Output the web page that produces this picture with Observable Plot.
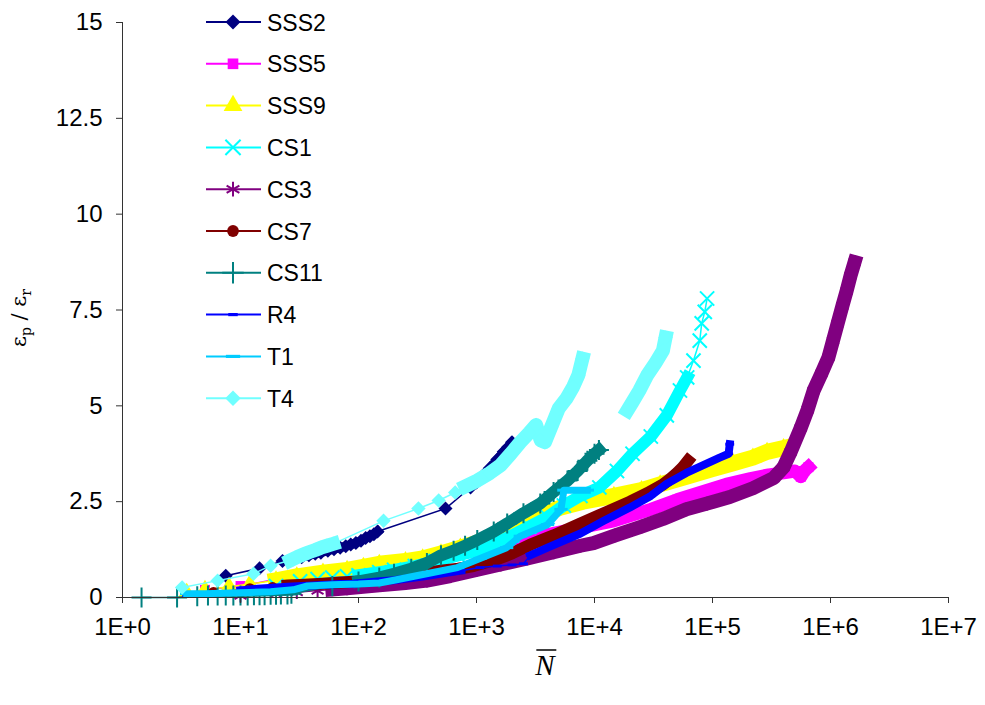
<!DOCTYPE html>
<html><head><meta charset="utf-8">
<script src="https://cdn.jsdelivr.net/npm/d3@7"></script>
<script src="https://cdn.jsdelivr.net/npm/@observablehq/plot@0.6"></script>
<style>
body{margin:0;background:#fff}
#chart{position:relative;width:985px;height:705px}
</style>
</head><body><div id="chart"></div>
<script>
// ---------- data ----------
const seriesNames = ["SSS2","SSS5","SSS9","CS1","CS3","CS7","CS11","R4","T1","T4"];

const SSS2_N = [7.5,14.5,22.7,28,33,38,43,48,55,62,70,78,86,95,105,115,125,135,145,546,891,1000,1150,1300,1500,1700,1850,2000];
const SSS2_y = [0.57,0.76,0.95,1.0,1.05,1.1,1.14,1.17,1.22,1.26,1.3,1.34,1.38,1.42,1.48,1.55,1.6,1.65,1.72,2.32,2.87,3.0,3.2,3.38,3.6,3.8,3.92,4.05];

const SSS5_N = [5,10,22,45,67,85,150,225,400,740,1500,3500,7000,14600,30000,50000,80000,130000,210000,300000,400000,500000,560000,600000,650000];
const SSS5_y = [0.2,0.3,0.5,0.62,0.7,0.75,0.85,0.92,1.05,1.2,1.4,1.6,1.8,2.0,2.3,2.55,2.75,2.95,3.1,3.2,3.25,3.3,3.15,3.3,3.4];

const SSS9_N = [3.5,5,8,12,20,30,50,80,110,150,250,350,500,730,1000,1950,3000,5200,8000,14600,25000,36000,60000,100000,150000,220000,290000,400000];
const SSS9_y = [0.12,0.2,0.28,0.35,0.45,0.55,0.65,0.72,0.8,0.88,0.95,1.02,1.15,1.3,1.42,1.8,2.05,2.35,2.5,2.65,2.8,2.95,3.15,3.35,3.5,3.65,3.8,3.9];

const CS1_N = [20,32,45,60,80,100,150,200,300,450,700,1000,1400,2000,2800,4000,5500,7600,11000,15500,21000,30000,41000,53000,61000,69000,78000,81000,86000,90000];
const CS1_y = [0.3,0.42,0.48,0.52,0.55,0.58,0.66,0.72,0.82,0.95,1.1,1.22,1.4,1.62,1.85,2.1,2.4,2.65,2.87,3.3,3.75,4.2,4.75,5.4,5.74,6.18,6.7,7.15,7.45,7.8];

const CS3_N = [10,20,30,45,60,80,104,150,250,380,600,1000,1600,2700,4500,7600,9800,15000,25000,38000,60000,90000,140000,220000,330000,400000,460000,560000,640000,720000,840000,960000,1050000,1150000,1260000,1370000,1480000,1600000];
const CS3_y = [0.05,0.1,0.14,0.18,0.21,0.24,0.27,0.32,0.38,0.44,0.56,0.72,0.86,1.02,1.18,1.35,1.42,1.62,1.85,2.05,2.3,2.45,2.62,2.85,3.12,3.4,3.8,4.43,4.9,5.4,5.85,6.26,6.7,7.15,7.6,8.0,8.4,8.75];

const CS7_N = [5.9,12,18.7,25,35,50,70,100,150,220,315,500,700,940,1500,2000,2860,4500,7600,12000,20000,28000,38000,44000,50000,56000,62000];
const CS7_y = [0.13,0.23,0.26,0.31,0.33,0.36,0.39,0.42,0.46,0.53,0.6,0.7,0.75,0.82,1.0,1.15,1.38,1.62,1.93,2.2,2.5,2.72,2.95,3.1,3.25,3.4,3.57];

const CS11_N = [1.45,2.9,4.3,5.3,6.4,7.5,8.7,10,11.5,13,14.5,16,18,20,22,25,27,60,100,150,200,280,380,500,640,800,1015,1400,1820,2500,3470,4500,5900,7200,8700,10000,10900];
const CS11_y = [0,0,0.03,0.05,0.05,0.05,0.05,0.05,0.05,0.06,0.06,0.06,0.07,0.07,0.08,0.08,0.1,0.3,0.42,0.52,0.62,0.75,0.9,1.1,1.22,1.35,1.5,1.72,1.93,2.2,2.45,2.75,3.05,3.3,3.57,3.75,3.85];

const R4_N = [3.5,6,10,14,25,45,70,90,145,200,350,740,1070,1500,2000,2500,2860,4000,7600,12000,20000,30000,41000,60000,90000,115000,137000,140000];
const R4_y = [0.05,0.12,0.18,0.23,0.28,0.32,0.35,0.36,0.42,0.45,0.55,0.7,0.78,0.82,0.85,0.88,1.1,1.3,1.67,2.0,2.35,2.65,2.97,3.25,3.5,3.65,3.75,4.0];

const T1_N = [3.5,5,8,12,18,28,37,60,100,150,200,350,690,1070,1800,2350,4000,5200,5500,7000,8700];
const T1_y = [0.1,0.1,0.12,0.13,0.15,0.2,0.3,0.33,0.35,0.38,0.45,0.6,0.78,1.02,1.3,1.6,1.9,2.3,2.8,2.8,2.8];

const T4_N = [3.2,6.4,12.9,18,26.5,30,34,38,43,48,54,61,163,322,478,660,805,1016,1300,1600,1950,2350,2800,3200,3500,3800,4300,4970,5800,6600,7300,7900,null,19000,21000,24000,28000,33000,38000,40000];
const T4_y = [0.26,0.44,0.62,0.83,0.97,1.05,1.12,1.18,1.24,1.3,1.35,1.4,2.0,2.32,2.53,2.74,2.9,3.05,3.25,3.45,3.75,4.05,4.3,4.5,4.1,4.05,4.45,4.93,5.2,5.5,5.8,6.23,null,4.88,5.1,5.4,5.8,6.13,6.44,6.78];

const seriesN = {SSS2:SSS2_N,SSS5:SSS5_N,SSS9:SSS9_N,CS1:CS1_N,CS3:CS3_N,CS7:CS7_N,CS11:CS11_N,R4:R4_N,T1:T1_N,T4:T4_N};
const seriesY = {SSS2:SSS2_y,SSS5:SSS5_y,SSS9:SSS9_y,CS1:CS1_y,CS3:CS3_y,CS7:CS7_y,CS11:CS11_y,R4:R4_y,T1:T1_y,T4:T4_y};

const xTicks = [1,10,100,1e3,1e4,1e5,1e6,1e7];
const xTickLabels = ["1E+0","1E+1","1E+2","1E+3","1E+4","1E+5","1E+6","1E+7"];
const yTicks = [0,2.5,5,7.5,10,12.5,15];
const yTickLabels = ["0","2.5","5","7.5","10","12.5","15"];

// ---------- styles ----------
function dashSymbol(ratio){
  return {draw(ctx, size){
    const w = Math.sqrt(size)*ratio, h = Math.sqrt(size)/3;
    ctx.moveTo(-w/2,-h/2); ctx.lineTo(w/2,-h/2); ctx.lineTo(w/2,h/2); ctx.lineTo(-w/2,h/2); ctx.closePath();
  }};
}
const styles = {
  SSS2:{color:"#000080", symbol:"diamond2", filled:true,  r:6.3, band:9,  dense:[[30,150],[900,2100]]},
  SSS5:{color:"#FF00FF", symbol:"square",   filled:true,  r:5.6, band:13, dense:[[100,1e7]]},
  SSS9:{color:"#FFFF00", symbol:"triangle", filled:true,  r:6.5, band:16, dense:[[20,1e7]]},
  CS1: {color:"#00FFFF", symbol:"times",    filled:false, r:6.5, band:12, dense:[[100,62000]]},
  CS3: {color:"#800080", symbol:"asterisk", filled:false, r:6.5, band:14, dense:[[50,1e7]]},
  CS7: {color:"#800000", symbol:"circle",   filled:true,  r:5.5, band:12, dense:[[20,1e7]]},
  CS11:{color:"#008080", symbol:"plus",     filled:false, r:6.5, band:12, dense:[[90,1e7]]},
  R4:  {color:"#0000FF", symbol:dashSymbol(1.0), filled:true, r:5, band:8, dense:[[10,1000],[2800,1e7]]},
  T1:  {color:"#00CCFF", symbol:dashSymbol(1.5), filled:true, r:5, band:7, dense:[[3,1e7]]},
  T4:  {color:"#70FFFF", symbol:"diamond2", filled:true,  r:6.5, band:14, dense:[[25,65],[800,1e6]]}
};

// ---------- marks ----------
const marks = [];
for (const name of seriesNames) {
  const st = styles[name];
  const rows = seriesN[name].map((n,i)=>({series:name, N:n, y:seriesY[name][i]}));
  const inDense = n => n != null && st.dense.some(([a,b]) => n >= a && n <= b);
  const denseRows = rows.map(d => ({...d, yd: inDense(d.N) ? d.y : NaN}));
  marks.push(Plot.line(rows, {x:"N", y:"y", stroke:st.color, strokeWidth:1.5}));
  marks.push(Plot.line(denseRows, {x:"N", y:"yd", stroke:st.color, strokeWidth:st.band, strokeLinejoin:"round", strokeLinecap:"square"}));
  marks.push(Plot.dot(rows.filter(d=>d.N!=null), st.filled
    ? {x:"N", y:"y", symbol:st.symbol, r:st.r, fill:st.color, stroke:"none"}
    : {x:"N", y:"y", symbol:st.symbol, r:st.r, stroke:st.color, fill:"none", strokeWidth:2}));
}

const chart = Plot.plot({
  width:985, height:705,
  marginLeft:122, marginRight:37, marginTop:22, marginBottom:108,
  style:{fontFamily:"'Liberation Sans', Arial, sans-serif", fontSize:"24px", background:"#fff", color:"#000", overflow:"visible"},
  x:{type:"log", domain:[1,1e7]},
  y:{domain:[0,15]},
  marks:[
    ...marks,
    Plot.axisX({ticks:xTicks, tickFormat:d=>xTickLabels[xTicks.indexOf(d)], tickSize:6, tickPadding:14, label:null, fill:"#000", stroke:"#333"}),
    Plot.axisY({ticks:yTicks, tickFormat:d=>yTickLabels[yTicks.indexOf(d)], tickSize:6, tickPadding:14, label:null, fill:"#000", stroke:"#333"}),
    Plot.ruleX([1], {stroke:"#333"}),
    Plot.ruleY([0], {stroke:"#333"})
  ]
});
document.getElementById("chart").appendChild(chart);

// ---------- legend & labels ----------
const svg = d3.select(chart);
const symMap = {diamond2:d3.symbolDiamond2, square:d3.symbolSquare, triangle:d3.symbolTriangle, times:d3.symbolTimes, asterisk:d3.symbolAsterisk, circle:d3.symbolCircle, plus:d3.symbolPlus};
const lg = svg.append("g").attr("font-family","'Liberation Sans', Arial, sans-serif").attr("font-size",23).attr("text-anchor","start");
seriesNames.forEach((name,i)=>{
  const st = styles[name];
  const yy = 22 + i*41.8;
  lg.append("line").attr("x1",206).attr("x2",261).attr("y1",yy).attr("y2",yy).attr("stroke",st.color).attr("stroke-width",2);
  const type = typeof st.symbol === "string" ? symMap[st.symbol] : st.symbol;
  const size = Math.PI*st.r*st.r*1.15;
  const p = lg.append("path").attr("d", d3.symbol(type, size)()).attr("transform",`translate(233,${yy})`);
  if (st.filled) p.attr("fill",st.color); else p.attr("fill","none").attr("stroke",st.color).attr("stroke-width",2);
  lg.append("text").attr("x",267).attr("y",yy+8.5).attr("text-anchor","start").attr("fill","#000").text(name);
});

// y label
const yl = svg.append("text").attr("transform","translate(26,318) rotate(-90)").attr("text-anchor","middle")
  .attr("font-family","'DejaVu Serif','Liberation Serif',serif").attr("font-size",21).attr("fill","#000");
yl.append("tspan").text("ε");
yl.append("tspan").attr("font-size",14).attr("dy",5).text("p");
yl.append("tspan").attr("dy",-5).text(" / ε");
yl.append("tspan").attr("font-size",14).attr("dy",5).text("r");

// x label with overline
const xl = svg.append("text").attr("x",545).attr("y",675).attr("text-anchor","middle").attr("fill","#000")
  .attr("font-family","'Liberation Serif','Times New Roman',serif").attr("font-style","italic").attr("font-size",29).text("N");
const bb = xl.node().getBBox();
svg.append("line").attr("x1",bb.x+2).attr("x2",bb.x+bb.width).attr("y1",bb.y+1).attr("y2",bb.y+1).attr("stroke","#000").attr("stroke-width",1.5);
</script>
</body></html>
